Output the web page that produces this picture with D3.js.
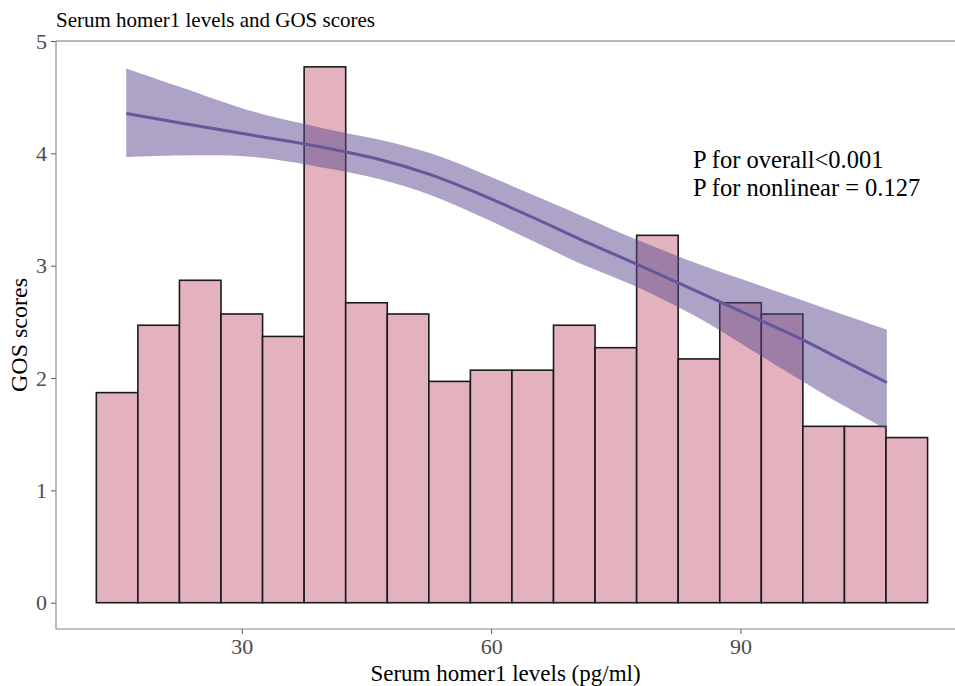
<!DOCTYPE html>
<html>
<head>
<meta charset="utf-8">
<script src="https://cdn.jsdelivr.net/npm/d3@7"></script>
<style>
  html, body { margin: 0; padding: 0; background: #fff; }
  svg { display: block; }
</style>
</head>
<body>
<svg id="chart" width="955" height="686"></svg>
<script>
// ---- data ----
const binCenters = [15, 20, 25, 30, 35, 40, 45, 50, 55, 60, 65, 70, 75, 80, 85, 90, 95, 100, 105, 110];
const barValues  = [1.87, 2.47, 2.87, 2.57, 2.37, 4.77, 2.67, 2.57, 1.97, 2.07, 2.07, 2.47, 2.27, 3.27, 2.17, 2.67, 2.57, 1.57, 1.57, 1.47];
const binWidth = 5;

const curveX     = [16.1, 22.6, 31.0, 40.0, 46.6, 52.7, 58.7, 64.7, 70.7, 77.9, 85.1, 91.3, 97.5, 102.5, 107.6];
const curveFit   = [4.355, 4.27, 4.165, 4.05, 3.945, 3.81, 3.635, 3.44, 3.235, 3.00, 2.76, 2.55, 2.34, 2.15, 1.96];
const curveUpper = [4.756, 4.59, 4.38, 4.22, 4.12, 4.00, 3.83, 3.64, 3.45, 3.22, 3.01, 2.85, 2.69, 2.56, 2.43];
const curveLower = [3.966, 3.98, 3.97, 3.87, 3.77, 3.63, 3.44, 3.23, 3.02, 2.80, 2.53, 2.25, 1.97, 1.75, 1.54];

const xTicks = [30, 60, 90];
const yTicks = [0, 1, 2, 3, 4, 5];

const titleText = "Serum homer1 levels and GOS scores";
const xTitle = "Serum homer1 levels (pg/ml)";
const yTitle = "GOS scores";
const annotLines = ["P for overall<0.001", "P for nonlinear = 0.127"];

// ---- layout ----
const svg = d3.select("#chart");
const pLeft = 56, pRight = 955, pTop = 41, pBottom = 629;
const font = "'Liberation Serif', 'Times New Roman', serif";

const x = d3.scaleLinear().domain([7.65, 115.8]).range([pLeft, pRight]);
const y = d3.scaleLinear().domain([-0.234, 5]).range([pBottom, pTop]);

// bars
svg.append("g").selectAll("rect")
  .data(binCenters.map((c, i) => ({c, v: barValues[i]})))
  .join("rect")
  .attr("x", d => x(d.c - binWidth / 2))
  .attr("width", d => x(d.c + binWidth / 2) - x(d.c - binWidth / 2))
  .attr("y", d => y(d.v))
  .attr("height", d => y(0) - y(d.v))
  .attr("fill", "#E3B2BE")
  .attr("stroke", "#1a1a1a")
  .attr("stroke-width", 1.6);

// ribbon
const pts = curveX.map((cx, i) => ({x: cx, fit: curveFit[i], lo: curveLower[i], hi: curveUpper[i]}));
svg.append("path")
  .datum(pts)
  .attr("d", d3.area().x(d => x(d.x)).y0(d => y(d.lo)).y1(d => y(d.hi)).curve(d3.curveCatmullRom.alpha(0.5)))
  .attr("fill", "rgb(89,72,143)")
  .attr("fill-opacity", 0.5);

// fit line
svg.append("path")
  .datum(pts)
  .attr("d", d3.line().x(d => x(d.x)).y(d => y(d.fit)).curve(d3.curveCatmullRom.alpha(0.5)))
  .attr("fill", "none")
  .attr("stroke", "#65579A")
  .attr("stroke-width", 3);

// axes
const axisColor = "#8a8a8a";
const yAxis = svg.append("g")
  .attr("transform", `translate(${pLeft},0)`)
  .call(d3.axisLeft(y).tickValues(yTicks).tickFormat(d3.format("d")).tickSize(5).tickPadding(4));
const xAxis = svg.append("g")
  .attr("transform", `translate(0,${pBottom})`)
  .call(d3.axisBottom(x).tickValues(xTicks).tickFormat(d3.format("d")).tickSize(5).tickPadding(4));
[xAxis, yAxis].forEach(g => {
  g.select(".domain").remove();
  g.selectAll(".tick line").attr("stroke", "#555").attr("stroke-width", 1);
  g.selectAll(".tick text").attr("fill", "#4d4d4d").style("font-family", font).style("font-size", "22px");
});
svg.append("line").attr("x1", pLeft).attr("x2", pLeft).attr("y1", pTop).attr("y2", pBottom)
  .attr("stroke", axisColor).attr("stroke-width", 1.2);
svg.append("line").attr("x1", pLeft).attr("x2", pRight).attr("y1", pBottom).attr("y2", pBottom)
  .attr("stroke", axisColor).attr("stroke-width", 1.2);
svg.append("line").attr("x1", pLeft).attr("x2", pRight).attr("y1", pTop).attr("y2", pTop)
  .attr("stroke", "#707070").attr("stroke-width", 1.2);

// titles
svg.append("text").attr("x", 56).attr("y", 27)
  .style("font-family", font).style("font-size", "21px").attr("fill", "#000")
  .text(titleText);
svg.append("text").attr("x", (pLeft + pRight) / 2).attr("y", 681)
  .attr("text-anchor", "middle")
  .style("font-family", font).style("font-size", "23px").attr("fill", "#000")
  .text(xTitle);
svg.append("text")
  .attr("transform", `translate(27,${(pTop + pBottom) / 2}) rotate(-90)`)
  .attr("text-anchor", "middle")
  .style("font-family", font).style("font-size", "24px").attr("fill", "#000")
  .text(yTitle);

// annotation
svg.append("g").selectAll("text")
  .data(annotLines)
  .join("text")
  .attr("x", 693)
  .attr("y", (d, i) => 168 + i * 27.5)
  .style("font-family", font).style("font-size", "24.5px").attr("fill", "#000")
  .text(d => d);
</script>
</body>
</html>
